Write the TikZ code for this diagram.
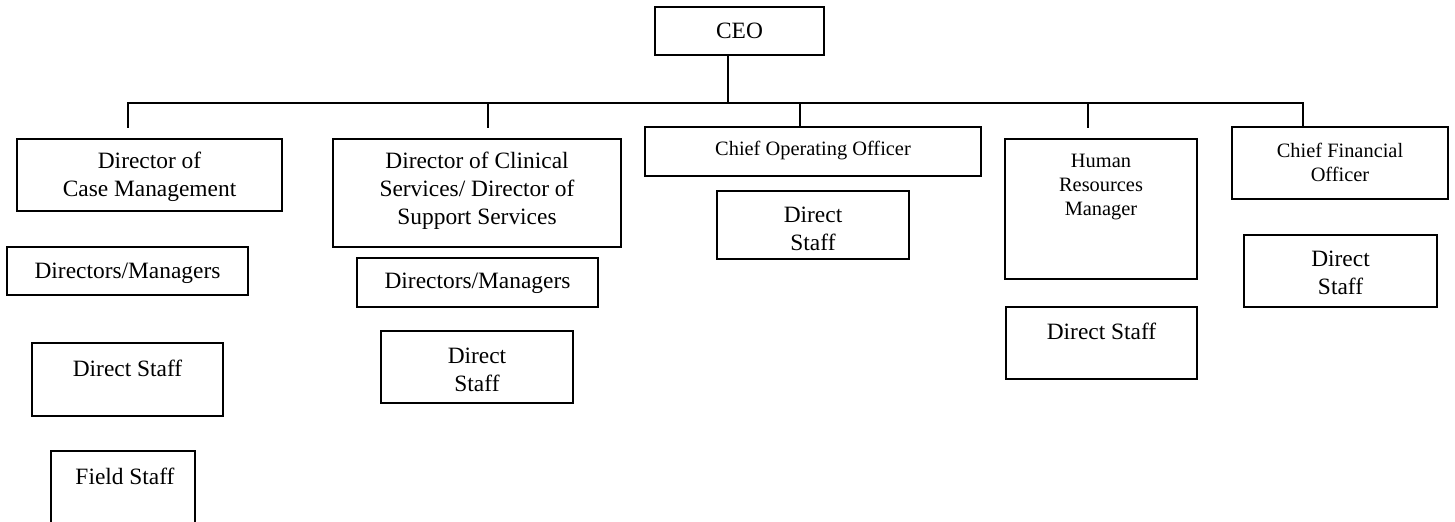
\documentclass[tikz,border=0pt]{standalone}
\usepackage{fontspec}
\setmainfont{Liberation Serif}
\begin{document}
\begin{tikzpicture}[x=0.5pt,y=-0.5pt,
  orgbox/.style={draw, line width=0.7pt, inner sep=0pt, rectangle},
  bigtxt/.style={inner sep=0pt, align=center, font=\fontsize{11.7}{14}\selectfont},
  smalltxt/.style={inner sep=0pt, align=center, font=\fontsize{10.2}{12}\selectfont},
  link/.style={line width=0.55pt}]
\clip (0,0) rectangle (1455,522);
% boxes
\node[orgbox, minimum width=84.5pt, minimum height=24pt] (ceo) at (739.5,31) {};
\node[orgbox, minimum width=132.5pt, minimum height=36pt] (dcm) at (149.5,175) {};
\node[orgbox, minimum width=144pt, minimum height=54pt] (dcs) at (477,193) {};
\node[orgbox, minimum width=168pt, minimum height=24.5pt] (coo) at (813,151.5) {};
\node[orgbox, minimum width=96pt, minimum height=34pt] (coods) at (813,225) {};
\node[orgbox, minimum width=96pt, minimum height=70pt] (hr) at (1101,209) {};
\node[orgbox, minimum width=108pt, minimum height=36pt] (cfo) at (1340,163) {};
\node[orgbox, minimum width=96.5pt, minimum height=36pt] (cfods) at (1340.5,271) {};
\node[orgbox, minimum width=95.5pt, minimum height=36pt] (hrds) at (1101.5,343) {};
\node[orgbox, minimum width=120.5pt, minimum height=24pt] (ldm) at (127.5,271) {};
\node[orgbox, minimum width=95.5pt, minimum height=36.5pt] (lds) at (127.5,379.5) {};
\node[orgbox, minimum width=72pt, minimum height=37pt] (fs) at (123,488) {};
\node[orgbox, minimum width=120.5pt, minimum height=24.5pt] (mdm) at (477.5,282.5) {};
\node[orgbox, minimum width=96pt, minimum height=36pt] (mds) at (477,367) {};
% texts
\node[bigtxt] (ceot) at (739.5,31) {CEO};
\node[bigtxt] (dcmt) at (149.5,177) {Director of\\Case Management};
\node[bigtxt] (dcst) at (477,191) {Director of Clinical\\Services/ Director of\\Support Services};
\node[smalltxt] (coot) at (813,151) {Chief Operating Officer};
\node[bigtxt] (coodst) at (813,229) {Direct\\Staff};
\node[smalltxt] (hrt) at (1101,187) {Human\\Resources\\Manager};
\node[smalltxt] (cfot) at (1340,162.5) {Chief Financial\\Officer};
\node[bigtxt] (cfodst) at (1340.5,272.5) {Direct\\Staff};
\node[bigtxt] (hrdst) at (1101.5,331) {Direct Staff};
\node[bigtxt] (ldmt) at (127.5,273) {Directors/Managers};
\node[bigtxt] (ldst) at (127.5,368) {Direct Staff};
\node[bigtxt] (fst) at (125,476) {Field Staff};
\node[bigtxt] (mdmt) at (477.5,283) {Directors/Managers};
\node[bigtxt] (mdst) at (477,369.5) {Direct\\Staff};
% connectors
\coordinate (ceodrop) at (728,103);
\coordinate (e1) at (128,128);
\coordinate (e2) at (488,128);
\coordinate (e3) at (800,127);
\coordinate (e4) at (1088,128);
\coordinate (e5) at (1303,127);
\draw[link] (ceo.south -| ceodrop) -- (ceodrop);
\draw[link] (e1) -- (e1 |- ceodrop) -- (e5 |- ceodrop) -- (cfo.north -| e5);
\draw[link] (e2) -- (e2 |- ceodrop);
\draw[link] (coo.north -| e3) -- (e3 |- ceodrop);
\draw[link] (e4) -- (e4 |- ceodrop);
\end{tikzpicture}
\end{document}
